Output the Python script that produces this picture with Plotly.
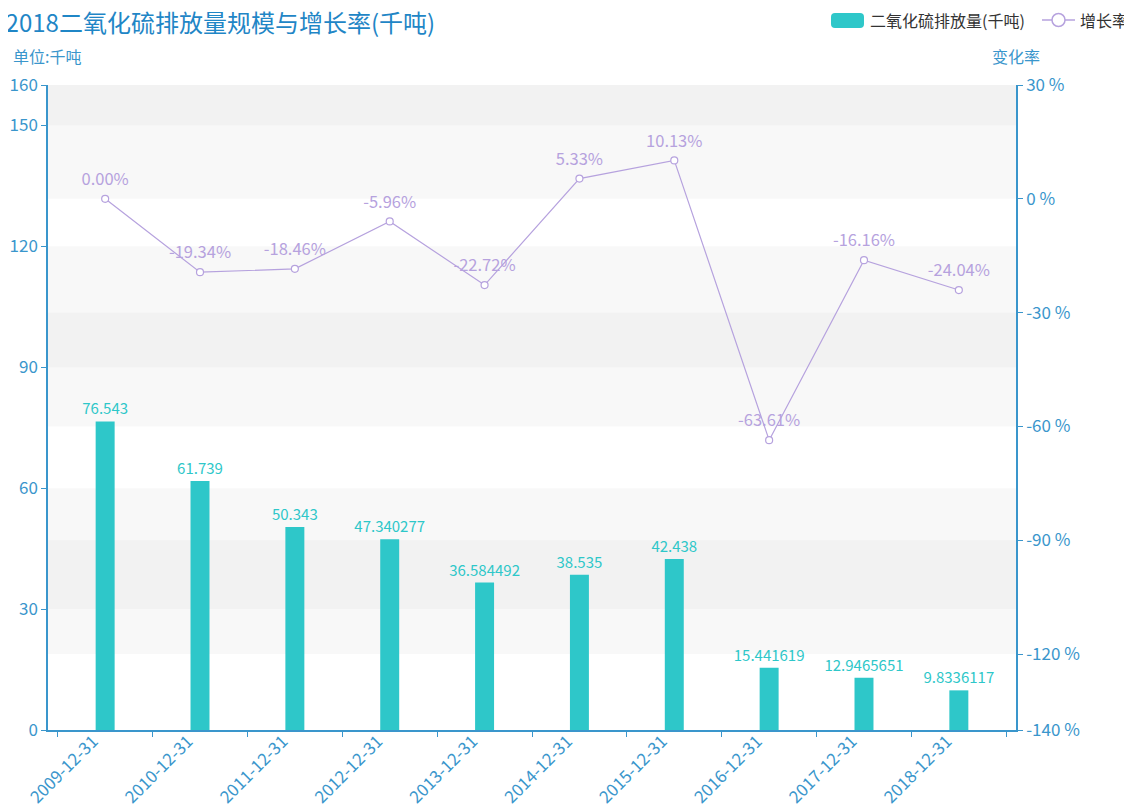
import plotly.graph_objects as go

# ---- data ----
categories = ["2009-12-31", "2010-12-31", "2011-12-31", "2012-12-31", "2013-12-31",
              "2014-12-31", "2015-12-31", "2016-12-31", "2017-12-31", "2018-12-31"]
emissions = [76.543, 61.739, 50.343, 47.340277, 36.584492,
             38.535, 42.438, 15.441619, 12.9465651, 9.8336117]
growth = [0.00, -19.34, -18.46, -5.96, -22.72, 5.33, 10.13, -63.61, -16.16, -24.04]

left_ticks = [0, 30, 60, 90, 120, 150, 160]
right_ticks = [30, 0, -30, -60, -90, -120, -140]
right_ticktext = [f"{v} %" for v in right_ticks]

title_text = "2009-2018二氧化硫排放量规模与增长率(千吨)"
bar_name = "二氧化硫排放量(千吨)"
line_name = "增长率"

# ---- styles ----
OFF = 8  # page body margin offset
PAGE_W, PAGE_H = 1132, 808
W, H = PAGE_W - OFF, PAGE_H - OFF
# plot area in page pixels
PL, PR, PT, PB = 48, 1016, 85, 730
L, R, T, B = PL - OFF, PR - OFF, PT - OFF, PB - OFF
BAR_C = "#2ec7c9"
LINE_C = "#b6a2de"
AXIS_C = "#3a96cc"
TITLE_C = "#1f86c6"
FONT = "Noto Sans CJK SC"
BAND = "rgba(200,200,200,0.13)"

def px_x(x):
    return (x - OFF - L) / (R - L)

def px_y(y):
    return (B - (y - OFF)) / (B - T)

fig = go.Figure()

fig.add_trace(go.Bar(
    x=categories, y=emissions, name=bar_name,
    marker=dict(color=BAR_C, line=dict(width=0)),
    text=[str(v) for v in emissions], textposition="outside",
    constraintext="none",
    textfont=dict(color=BAR_C, size=15, family=FONT),
    cliponaxis=False, showlegend=False, yaxis="y",
))

fig.add_trace(go.Scatter(
    x=categories, y=growth, name=line_name, yaxis="y2",
    mode="lines+markers",
    line=dict(color=LINE_C, width=1.2),
    marker=dict(size=7, color="white", line=dict(color=LINE_C, width=1.2)),
    cliponaxis=False, showlegend=False,
))
# labels for the growth line (offset via invisible larger markers)
fig.add_trace(go.Scatter(
    x=categories, y=growth, yaxis="y2",
    mode="markers+text",
    marker=dict(size=14, color="rgba(0,0,0,0)"),
    text=[f"{v:.2f}%" for v in growth], textposition="top center",
    textfont=dict(color=LINE_C, size=16.5, family=FONT),
    cliponaxis=False, showlegend=False, hoverinfo="skip",
))

shapes = []
# split-area bands (left axis and right axis, overlapping)
for lo, hi in [(30, 60), (90, 120), (150, 160)]:
    shapes.append(dict(type="rect", xref="paper", yref="y", x0=0, x1=1, y0=lo, y1=hi,
                       fillcolor=BAND, line=dict(width=0), layer="below"))
for lo, hi in [(0, 30), (-60, -30), (-120, -90)]:
    shapes.append(dict(type="rect", xref="paper", yref="y2", x0=0, x1=1, y0=lo, y1=hi,
                       fillcolor=BAND, line=dict(width=0), layer="below"))

# custom legend (page pixel positions)
def rrect(x0, y0, x1, y1, r):
    rx = r / (R - L)
    ry = r / (B - T)
    X0, X1 = px_x(x0), px_x(x1)
    Y0, Y1 = px_y(y1), px_y(y0)  # bottom, top in paper
    return (f"M {X0 + rx},{Y0} L {X1 - rx},{Y0} Q {X1},{Y0} {X1},{Y0 + ry} "
            f"L {X1},{Y1 - ry} Q {X1},{Y1} {X1 - rx},{Y1} L {X0 + rx},{Y1} "
            f"Q {X0},{Y1} {X0},{Y1 - ry} L {X0},{Y0 + ry} Q {X0},{Y0} {X0 + rx},{Y0} Z")

shapes.append(dict(type="path", xref="paper", yref="paper",
                   path=rrect(831, 13, 864, 28, 4),
                   fillcolor=BAR_C, line=dict(width=0), layer="above"))
shapes.append(dict(type="line", xref="paper", yref="paper",
                   x0=px_x(1042), x1=px_x(1075), y0=px_y(20), y1=px_y(20),
                   line=dict(color=LINE_C, width=1.5)))
shapes.append(dict(type="circle", xref="paper", yref="paper",
                   x0=px_x(1052), x1=px_x(1065), y0=px_y(26.5), y1=px_y(13.5),
                   fillcolor="white", line=dict(color=LINE_C, width=1.5)))

annotations = [
    dict(text=title_text, xref="paper", yref="paper", x=px_x(-58), y=px_y(21),
         xanchor="left", yanchor="middle", showarrow=False,
         font=dict(size=24, color=TITLE_C, family=FONT)),
    dict(text="单位:千吨", xref="paper", yref="paper", x=px_x(11), y=px_y(56),
         xanchor="left", yanchor="middle", showarrow=False,
         font=dict(size=16, color=AXIS_C, family=FONT)),
    dict(text="变化率", xref="paper", yref="paper", x=px_x(1016), y=px_y(56),
         xanchor="center", yanchor="middle", showarrow=False,
         font=dict(size=16, color=AXIS_C, family=FONT)),
    dict(text=bar_name, xref="paper", yref="paper", x=px_x(868), y=px_y(20),
         xanchor="left", yanchor="middle", showarrow=False,
         font=dict(size=16, color="#333333", family=FONT)),
    dict(text=line_name, xref="paper", yref="paper", x=px_x(1078), y=px_y(20),
         xanchor="left", yanchor="middle", showarrow=False,
         font=dict(size=16, color="#333333", family=FONT)),
]

axis_common = dict(
    ticks="outside", ticklen=5, tickcolor=AXIS_C,
    showline=True, linecolor=AXIS_C, linewidth=1.5,
    showgrid=False, zeroline=False, automargin=False,
    tickfont=dict(size=17, color=AXIS_C, family=FONT),
)

fig.update_layout(
    width=W, height=H,
    margin=dict(l=L, r=W - R, t=T, b=H - B, pad=0, autoexpand=False),
    paper_bgcolor="white", plot_bgcolor="white",
    font=dict(family=FONT, color=AXIS_C, size=16),
    bargap=0.8,
    showlegend=False,
    shapes=shapes,
    annotations=annotations,
    xaxis=dict(type="category", tickangle=-45, tickson="boundaries",
               ticklabelshift=-12, ticklabelstandoff=-7, **axis_common),
    yaxis=dict(range=[0, 160], tickvals=left_ticks,
               ticktext=[str(v) for v in left_ticks], **axis_common),
    yaxis2=dict(range=[-140, 30], overlaying="y", side="right",
                tickvals=right_ticks, ticktext=right_ticktext, **axis_common),
)

fig.write_html("out.html")
